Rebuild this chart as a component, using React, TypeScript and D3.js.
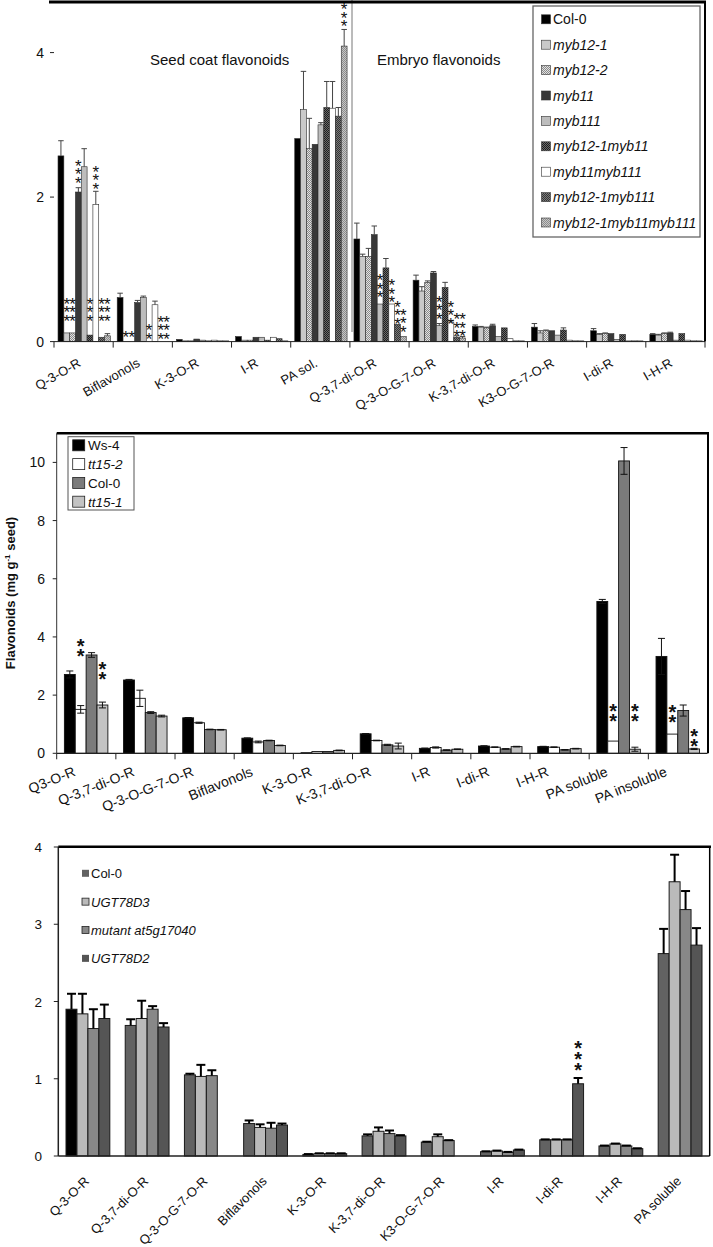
import React from "react";
import * as d3 from "d3";

const FONT = "'Liberation Sans', Arial, Helvetica, sans-serif";

// ---------------- Panel 1 data ----------------
const p1Categories = ["Q-3-O-R", "Biflavonols", "K-3-O-R", "I-R", "PA sol.", "Q-3,7-di-O-R", "Q-3-O-G-7-O-R", "K-3,7-di-O-R", "K3-O-G-7-O-R", "I-di-R", "I-H-R"];
const p1Series = ["Col-0", "myb12-1", "myb12-2", "myb11", "myb111", "myb12-1myb11", "myb11myb111", "myb12-1myb111", "myb12-1myb11myb111"];
const p1Col0 = [2.57, 0.61, 0.03, 0.07, 2.81, 1.42, 0.85, 0.21, 0.2, 0.15, 0.1];
const p1Col0Err = [0.21, 0.06, 0, 0, 0, 0.22, 0.07, 0.02, 0.05, 0.03, 0.01];
const p1Myb121 = [0.12, 0, 0.01, 0.02, 3.21, 1.18, 0.7, 0.2, 0.12, 0.1, 0.09];
const p1Myb121Err = [0, 0, 0, 0, 0.53, 0.03, 0.06, 0.01, 0.03, 0.01, 0.01];
const p1Myb122 = [0.12, 0, 0.01, 0.02, 2.67, 1.18, 0.82, 0.19, 0.15, 0.11, 0.11];
const p1Myb122Err = [0, 0, 0, 0, 0.42, 0.11, 0.02, 0.01, 0.01, 0.01, 0.01];
const p1Myb11 = [2.07, 0.54, 0.035, 0.06, 2.73, 1.48, 0.95, 0.22, 0.15, 0.11, 0.12];
const p1Myb11Err = [0.06, 0.03, 0, 0, 0, 0.12, 0.02, 0.02, 0, 0, 0.01];
const p1Myb111 = [2.42, 0.61, 0.02, 0.06, 3.0, 0.52, 0.22, 0.07, 0.09, 0.03, 0.02];
const p1Myb111Err = [0.25, 0.02, 0, 0, 0.03, 0, 0.03, 0, 0, 0, 0];
const p1Myb121Myb11 = [0.09, 0, 0.01, 0.02, 3.24, 1.02, 0.75, 0.19, 0.16, 0.1, 0.11];
const p1Myb121Myb11Err = [0, 0, 0, 0, 0.36, 0.13, 0.07, 0, 0.03, 0, 0];
const p1Myb11Myb111 = [1.9, 0.51, 0.02, 0.06, 3.23, 0.52, 0.27, 0.04, 0.02, 0.01, 0.02];
const p1Myb11Myb111Err = [0.18, 0.05, 0, 0, 0.37, 0, 0.02, 0, 0, 0, 0];
const p1Myb121Myb111 = [0.06, 0, 0.01, 0.04, 3.12, 0.24, 0.06, 0.01, 0.01, 0.01, 0.01];
const p1Myb121Myb111Err = [0, 0, 0, 0, 0.12, 0, 0.02, 0, 0, 0, 0];
const p1Triple = [0.08, 0, 0.01, 0.01, 4.09, 0.07, 0.05, 0.01, 0.01, 0.01, 0.01];
const p1TripleErr = [0.03, 0, 0, 0, 0.23, 0, 0.02, 0, 0, 0, 0];
const p1Values = [p1Col0, p1Myb121, p1Myb122, p1Myb11, p1Myb111, p1Myb121Myb11, p1Myb11Myb111, p1Myb121Myb111, p1Triple];
const p1Errs = [p1Col0Err, p1Myb121Err, p1Myb122Err, p1Myb11Err, p1Myb111Err, p1Myb121Myb11Err, p1Myb11Myb111Err, p1Myb121Myb111Err, p1TripleErr];
const p1Fills = ["#000000", "#c9c9c9", "url(#chkA)", "#383838", "#bdbdbd", "url(#chkB)", "#ffffff", "url(#chkC)", "url(#chkD)"];
const p1Italic = [false, true, true, true, true, true, true, true, true];
const p1Ticks = [0, 2, 4];
const p1Stars = [
  { cat: "Q-3-O-R", series: "myb12-1", n: 3, at: 0.34 },
  { cat: "Q-3-O-R", series: "myb12-2", n: 3, at: 0.34 },
  { cat: "Q-3-O-R", series: "myb11", n: 3, at: 2.25 },
  { cat: "Q-3-O-R", series: "myb12-1myb11", n: 3, at: 0.34 },
  { cat: "Q-3-O-R", series: "myb11myb111", n: 3, at: 2.17 },
  { cat: "Q-3-O-R", series: "myb12-1myb111", n: 3, at: 0.34 },
  { cat: "Q-3-O-R", series: "myb12-1myb11myb111", n: 3, at: 0.34 },
  { cat: "Biflavonols", series: "myb12-1", n: 1, at: 0.12 },
  { cat: "Biflavonols", series: "myb12-2", n: 1, at: 0.12 },
  { cat: "Biflavonols", series: "myb12-1myb11", n: 2, at: 0.09 },
  { cat: "Biflavonols", series: "myb12-1myb111", n: 3, at: 0.09 },
  { cat: "Biflavonols", series: "myb12-1myb11myb111", n: 3, at: 0.09 },
  { cat: "PA sol.", series: "myb12-1myb11myb111", n: 3, at: 4.42 },
  { cat: "Q-3,7-di-O-R", series: "myb111", n: 3, at: 0.67 },
  { cat: "Q-3,7-di-O-R", series: "myb11myb111", n: 3, at: 0.6 },
  { cat: "Q-3,7-di-O-R", series: "myb12-1myb111", n: 3, at: 0.3 },
  { cat: "Q-3,7-di-O-R", series: "myb12-1myb11myb111", n: 3, at: 0.19 },
  { cat: "Q-3-O-G-7-O-R", series: "myb111", n: 3, at: 0.37 },
  { cat: "Q-3-O-G-7-O-R", series: "myb11myb111", n: 3, at: 0.3 },
  { cat: "Q-3-O-G-7-O-R", series: "myb12-1myb111", n: 3, at: 0.13 },
  { cat: "Q-3-O-G-7-O-R", series: "myb12-1myb11myb111", n: 3, at: 0.13 },
];

// ---------------- Panel 2 data ----------------
const p2Categories = ["Q3-O-R", "Q-3,7-di-O-R", "Q-3-O-G-7-O-R", "Biflavonols", "K-3-O-R", "K-3,7-di-O-R", "I-R", "I-di-R", "I-H-R", "PA soluble", "PA insoluble"];
const p2Series = ["Ws-4", "tt15-2", "Col-0", "tt15-1"];
const p2Ws4 = [2.71, 2.52, 1.22, 0.52, 0.02, 0.67, 0.17, 0.25, 0.23, 5.22, 3.33];
const p2Ws4Err = [0.12, 0.02, 0.01, 0.01, 0, 0.01, 0.01, 0.01, 0.01, 0.07, 0.62];
const p2Tt152 = [1.51, 1.89, 1.05, 0.39, 0.06, 0.44, 0.2, 0.21, 0.21, 0.42, 0.66];
const p2Tt152Err = [0.13, 0.28, 0.02, 0.03, 0, 0.01, 0.02, 0.01, 0.01, 0, 0];
const p2Col0 = [3.38, 1.4, 0.82, 0.44, 0.06, 0.29, 0.11, 0.15, 0.12, 10.05, 1.47];
const p2Col0Err = [0.08, 0.03, 0.01, 0.01, 0, 0.02, 0.01, 0.01, 0.01, 0.46, 0.19];
const p2Tt151 = [1.66, 1.28, 0.81, 0.27, 0.1, 0.25, 0.14, 0.23, 0.16, 0.14, 0.15];
const p2Tt151Err = [0.1, 0.03, 0.01, 0.01, 0.01, 0.1, 0.01, 0.01, 0.01, 0.07, 0.02];
const p2Values = [p2Ws4, p2Tt152, p2Col0, p2Tt151];
const p2Errs = [p2Ws4Err, p2Tt152Err, p2Col0Err, p2Tt151Err];
const p2Fills = ["#000000", "#ffffff", "#7b7b7b", "#c3c3c3"];
const p2Italic = [false, true, false, true];
const p2Ticks = [0, 2, 4, 6, 8, 10];
const p2Stars = [
  { cat: "Q3-O-R", series: "tt15-2", n: 2, at: 3.52 },
  { cat: "Q3-O-R", series: "tt15-1", n: 2, at: 2.72 },
  { cat: "PA soluble", series: "tt15-2", n: 2, at: 1.28 },
  { cat: "PA soluble", series: "tt15-1", n: 2, at: 1.28 },
  { cat: "PA insoluble", series: "tt15-2", n: 2, at: 1.25 },
  { cat: "PA insoluble", series: "tt15-1", n: 2, at: 0.42 },
];

// ---------------- Panel 3 data ----------------
const p3Categories = ["Q-3-O-R", "Q-3,7-di-O-R", "Q-3-O-G-7-O-R", "Biflavonols", "K-3-O-R", "K-3,7-di-O-R", "K3-O-G-7-O-R", "I-R", "I-di-R", "I-H-R", "PA soluble"];
const p3Series = ["Col-0", "UGT78D3", "mutant at5g17040", "UGT78D2"];
const p3Col0 = [1.9, 1.69, 1.05, 0.42, 0.02, 0.26, 0.18, 0.056, 0.21, 0.13, 2.62];
const p3Col0Err = [0.2, 0.08, 0.015, 0.04, 0.005, 0.02, 0.005, 0.005, 0.005, 0.005, 0.32];
const p3UGT78D3 = [1.84, 1.78, 1.03, 0.37, 0.03, 0.32, 0.25, 0.065, 0.21, 0.156, 3.55];
const p3UGT78D3Err = [0.26, 0.23, 0.15, 0.04, 0.005, 0.05, 0.03, 0.005, 0.005, 0.005, 0.35];
const p3Mutant = [1.65, 1.9, 1.04, 0.36, 0.03, 0.29, 0.2, 0.048, 0.21, 0.13, 3.19];
const p3MutantErr = [0.25, 0.04, 0.07, 0.07, 0.005, 0.04, 0.005, 0.005, 0.005, 0.005, 0.24];
const p3UGT78D2 = [1.78, 1.67, null, 0.4, 0.03, 0.26, null, 0.078, 0.935, 0.095, 2.73];
const p3UGT78D2Err = [0.18, 0.05, 0, 0.02, 0.005, 0.01, 0, 0.005, 0.075, 0.005, 0.22];
const p3Values = [p3Col0, p3UGT78D3, p3Mutant, p3UGT78D2];
const p3Errs = [p3Col0Err, p3UGT78D3Err, p3MutantErr, p3UGT78D2Err];
const p3Fills = ["#626262", "#bababa", "#888888", "#555555"];
const p3Italic = [false, true, true, true];
const p3Ticks = [0, 1, 2, 3, 4];
const p3Stars = [{ cat: "I-di-R", series: "UGT78D2", n: 3, at: 1.17 }];

type Cfg = {
  cats: string[];
  series: string[];
  values: (number | null)[][];
  errs: number[][];
  fills: string[];
  x0: number;
  x1: number;
  yMax: number;
  yZero: number;
  yTop: number;
  inner: [number, number];
  barStroke: string;
  barStrokeW: number;
  errBoth: boolean;
  errColor: string;
  errW: number;
  capW: number;
  stars: { cat: string; series: string; n: number; at: number }[];
  starSize: number;
  starGap: number;
  starBold: boolean;
  fillOverride?: (s: number, c: number) => string | null;
};

function useScales(cfg: Cfg) {
  const x = d3.scaleBand<string>().domain(cfg.cats).range([cfg.x0, cfg.x1]);
  const bw = x.bandwidth();
  const xi = d3.scaleBand<string>().domain(cfg.series).range([bw * cfg.inner[0], bw * cfg.inner[1]]);
  const y = d3.scaleLinear().domain([0, cfg.yMax]).range([cfg.yZero, cfg.yTop]);
  return { x, xi, y };
}

function Bars({ cfg }: { cfg: Cfg }) {
  const { x, xi, y } = useScales(cfg);
  const out: React.ReactNode[] = [];
  cfg.series.forEach((s, si) => {
    cfg.cats.forEach((c, ci) => {
      const v = cfg.values[si][ci];
      if (v === null || v === undefined) return;
      const bx = (x(c) as number) + (xi(s) as number);
      const w = xi.bandwidth();
      const fill = (cfg.fillOverride && cfg.fillOverride(si, ci)) || cfg.fills[si];
      const h = y(0) - y(v);
      if (h > 0.2) {
        out.push(
          <rect key={`b${si}-${ci}`} x={bx} y={y(v)} width={w} height={h} fill={fill} stroke={cfg.barStroke} strokeWidth={cfg.barStrokeW} />
        );
      }
      const e = cfg.errs[si][ci];
      if (e && e > 0) {
        const cx = bx + w / 2;
        const yHi = y(v + e);
        const yLo = cfg.errBoth ? y(Math.max(0, v - e)) : y(v);
        out.push(<line key={`e${si}-${ci}`} x1={cx} x2={cx} y1={yHi} y2={yLo} stroke={cfg.errColor} strokeWidth={cfg.errW} />);
        out.push(<line key={`c${si}-${ci}`} x1={cx - cfg.capW / 2} x2={cx + cfg.capW / 2} y1={yHi} y2={yHi} stroke={cfg.errColor} strokeWidth={cfg.errW} />);
        if (cfg.errBoth) {
          out.push(<line key={`d${si}-${ci}`} x1={cx - cfg.capW / 2} x2={cx + cfg.capW / 2} y1={yLo} y2={yLo} stroke={cfg.errColor} strokeWidth={cfg.errW} />);
        }
      }
    });
  });
  cfg.stars.forEach((st, k) => {
    const cx = (x(st.cat) as number) + (xi(st.series) as number) + xi.bandwidth() / 2;
    const yTopStar = y(st.at) - (st.n - 1) * cfg.starGap + 0.58 * cfg.starSize;
    out.push(
      <text key={`s${k}`} textAnchor="middle" fontSize={cfg.starSize} fontWeight={cfg.starBold ? "bold" : "normal"} fontFamily={FONT} fill="#111">
        {d3.range(st.n).map((i) => (
          <tspan key={i} x={cx} y={yTopStar + i * cfg.starGap}>*</tspan>
        ))}
      </text>
    );
  });
  return <g>{out}</g>;
}

function Pattern({ id, a, b }: { id: string; a: string; b: string }) {
  return (
    <pattern id={id} patternUnits="userSpaceOnUse" width={2} height={2}>
      <rect x={0} y={0} width={2} height={2} fill={a} />
      <rect x={0} y={0} width={1} height={1} fill={b} />
      <rect x={1} y={1} width={1} height={1} fill={b} />
    </pattern>
  );
}

export default function App() {
  const cfg1: Cfg = {
    cats: p1Categories, series: p1Series, values: p1Values, errs: p1Errs, fills: p1Fills,
    x0: 54, x1: 705, yMax: 4.7, yZero: 341.6, yTop: 2, inner: [0.068, 0.952],
    barStroke: "#2a2a2a", barStrokeW: 0.6, errBoth: false, errColor: "#444", errW: 1, capW: 5.5,
    stars: p1Stars, starSize: 17, starGap: 8.5, starBold: false,
  };
  const cfg2: Cfg = {
    cats: p2Categories, series: p2Series, values: p2Values, errs: p2Errs, fills: p2Fills,
    x0: 56.7, x1: 707.5, yMax: 11, yZero: 753.3, yTop: 433.3, inner: [0.13, 0.865],
    barStroke: "#111", barStrokeW: 0.9, errBoth: true, errColor: "#111", errW: 1, capW: 7,
    stars: p2Stars, starSize: 20, starGap: 10, starBold: true,
  };
  const cfg3: Cfg = {
    cats: p3Categories, series: p3Series, values: p3Values, errs: p3Errs, fills: p3Fills,
    x0: 58.3, x1: 709.7, yMax: 4, yZero: 1156, yTop: 847, inner: [0.13, 0.87],
    barStroke: "#1a1a1a", barStrokeW: 1, errBoth: false, errColor: "#000", errW: 2, capW: 9,
    stars: p3Stars, starSize: 20, starGap: 11, starBold: true,
    fillOverride: (s, c) => (s === 0 && c === 0 ? "#000000" : null),
  };
  const s1 = useScales(cfg1);
  const s2 = useScales(cfg2);
  const s3 = useScales(cfg3);

  return (
    <svg width={713} height={1247} style={{ position: "absolute", left: 0, top: 0, background: "#fff" }} fontFamily={FONT}>
      <defs>
        <Pattern id="chkA" a="#e2e2e2" b="#8a8a8a" />
        <Pattern id="chkB" a="#6a6a6a" b="#1e1e1e" />
        <Pattern id="chkC" a="#7a7a7a" b="#353535" />
        <Pattern id="chkD" a="#c6c6c6" b="#8c8c8c" />
      </defs>
      <rect x={0} y={0} width={713} height={1247} fill="#fff" />

      {/* ---------------- Panel 1 ---------------- */}
      <g>
        <line x1={352} x2={352} y1={0} y2={332} stroke="#777" strokeWidth={1} />
        <text x={150} y={65} fontSize={15} fill="#111">Seed coat flavonoids</text>
        <text x={377} y={65} fontSize={15} fill="#111">Embryo flavonoids</text>
        <Bars cfg={cfg1} />
        <line x1={cfg1.x0} x2={cfg1.x1} y1={cfg1.yZero} y2={cfg1.yZero} stroke="#222" strokeWidth={1} />
        {p1Categories.concat(["__end"]).map((c, i) => {
          const xx = i < p1Categories.length ? (s1.x(c) as number) : cfg1.x1;
          return <line key={`t1${i}`} x1={xx} x2={xx} y1={cfg1.yZero} y2={cfg1.yZero + 6} stroke="#222" strokeWidth={1} />;
        })}
        {p1Ticks.map((t) => (
          <g key={`y1${t}`}>
            <line x1={cfg1.x0 - 4} x2={cfg1.x0} y1={s1.y(t)} y2={s1.y(t)} stroke="#222" strokeWidth={1} />
            <text x={44} y={s1.y(t) + 5} fontSize={14} textAnchor="end" fill="#111">{t}</text>
          </g>
        ))}
        {p1Categories.map((c) => {
          const cx = (s1.x(c) as number) + s1.x.bandwidth() / 2 - 2;
          const cy = cfg1.yZero + 24;
          return (
            <text key={`l1${c}`} x={cx} y={cy} fontSize={13} textAnchor="end" transform={`rotate(-30 ${cx} ${cy})`} fill="#111">{c}</text>
          );
        })}
        <line x1={49} x2={706} y1={2} y2={2} stroke="#000" strokeWidth={3} />
        <line x1={705} x2={705} y1={2} y2={cfg1.yZero} stroke="#000" strokeWidth={2} />
        <rect x={533} y={6} width={167} height={231} fill="#fff" stroke="#666" strokeWidth={1.3} />
        {p1Series.map((s, i) => {
          const ry = 19.3 + i * 25.4;
          return (
            <g key={`lg1${s}`}>
              <rect x={541.5} y={ry - 4.5} width={9} height={9} fill={p1Fills[i]} stroke="#333" strokeWidth={0.6} />
              <text x={553} y={ry + 5} fontSize={14} fontStyle={p1Italic[i] ? "italic" : "normal"} fill="#111">{s}</text>
            </g>
          );
        })}
      </g>

      {/* ---------------- Panel 2 ---------------- */}
      <g>
        <Bars cfg={cfg2} />
        <line x1={cfg2.x0} x2={cfg2.x1} y1={cfg2.yZero} y2={cfg2.yZero} stroke="#222" strokeWidth={1.2} />
        <line x1={cfg2.x0} x2={cfg2.x0} y1={cfg2.yTop} y2={cfg2.yZero} stroke="#333" strokeWidth={1} />
        {p2Categories.map((c, i) => {
          const xx = s2.x(c) as number;
          return <line key={`t2${i}`} x1={xx} x2={xx} y1={cfg2.yZero} y2={cfg2.yZero + 6} stroke="#222" strokeWidth={1} />;
        })}
        {p2Ticks.map((t) => (
          <g key={`y2${t}`}>
            <line x1={cfg2.x0 - 4} x2={cfg2.x0} y1={s2.y(t)} y2={s2.y(t)} stroke="#222" strokeWidth={1} />
            <text x={45} y={s2.y(t) + 5} fontSize={14} textAnchor="end" fill="#111">{t}</text>
          </g>
        ))}
        {p2Categories.map((c) => {
          const cx = (s2.x(c) as number) + s2.x.bandwidth() / 2 - 10;
          const cy = cfg2.yZero + 22;
          return (
            <text key={`l2${c}`} x={cx} y={cy} fontSize={14} textAnchor="end" transform={`rotate(-22 ${cx} ${cy})`} fill="#111">{c}</text>
          );
        })}
        <text x={0} y={0} fontSize={13} fontWeight="bold" textAnchor="middle" transform="translate(15 593) rotate(-90)" fill="#111">
          <tspan>Flavonoids (mg g</tspan>
          <tspan dy={-5} fontSize={8}>-1</tspan>
          <tspan dy={5}> seed)</tspan>
        </text>
        <line x1={cfg2.x0} x2={709} y1={433.3} y2={433.3} stroke="#000" strokeWidth={2.5} />
        <line x1={708} x2={708} y1={433.3} y2={cfg2.yZero} stroke="#000" strokeWidth={2} />
        <rect x={68} y={436.7} width={66} height={73.3} fill="#fff" stroke="#555" strokeWidth={1} />
        {p2Series.map((s, i) => {
          const ry = 445.3 + i * 18.8;
          return (
            <g key={`lg2${s}`}>
              <rect x={72.7} y={ry - 5.5} width={12} height={11} fill={p2Fills[i]} stroke="#222" strokeWidth={0.8} />
              <text x={88} y={ry + 5} fontSize={13.5} fontStyle={p2Italic[i] ? "italic" : "normal"} fill="#111">{s}</text>
            </g>
          );
        })}
      </g>

      {/* ---------------- Panel 3 ---------------- */}
      <g>
        <Bars cfg={cfg3} />
        <line x1={cfg3.x0} x2={cfg3.x1} y1={cfg3.yZero} y2={cfg3.yZero} stroke="#222" strokeWidth={1.5} />
        <line x1={cfg3.x0} x2={cfg3.x0} y1={846.7} y2={cfg3.yZero} stroke="#222" strokeWidth={1.5} />
        {p3Ticks.map((t) => (
          <g key={`y3${t}`}>
            <line x1={cfg3.x0 - 4.5} x2={cfg3.x0} y1={s3.y(t)} y2={s3.y(t)} stroke="#222" strokeWidth={1} />
            <text x={42} y={s3.y(t) + 5} fontSize={13.5} textAnchor="end" fill="#111">{t}</text>
          </g>
        ))}
        {p3Categories.map((c) => {
          const cx = (s3.x(c) as number) + s3.x.bandwidth() / 2 + 2;
          const cy = cfg3.yZero + 26;
          return (
            <text key={`l3${c}`} x={cx} y={cy} fontSize={13} textAnchor="end" transform={`rotate(-45 ${cx} ${cy})`} fill="#111">{c}</text>
          );
        })}
        <line x1={cfg3.x0} x2={711} y1={846.7} y2={846.7} stroke="#000" strokeWidth={2.5} />
        <line x1={709.7} x2={709.7} y1={846.7} y2={cfg3.yZero} stroke="#000" strokeWidth={1.5} />
        {p3Series.map((s, i) => {
          const ry = 873.3 + i * 28.35;
          return (
            <g key={`lg3${s}`}>
              <rect x={82} y={ry - 3.5} width={7} height={7} fill={p3Fills[i]} stroke={i === 1 || i === 2 ? "#222" : "none"} strokeWidth={0.8} />
              <text x={91} y={ry + 5} fontSize={13} fontStyle={p3Italic[i] ? "italic" : "normal"} fill="#111">{s}</text>
            </g>
          );
        })}
      </g>
    </svg>
  );
}
